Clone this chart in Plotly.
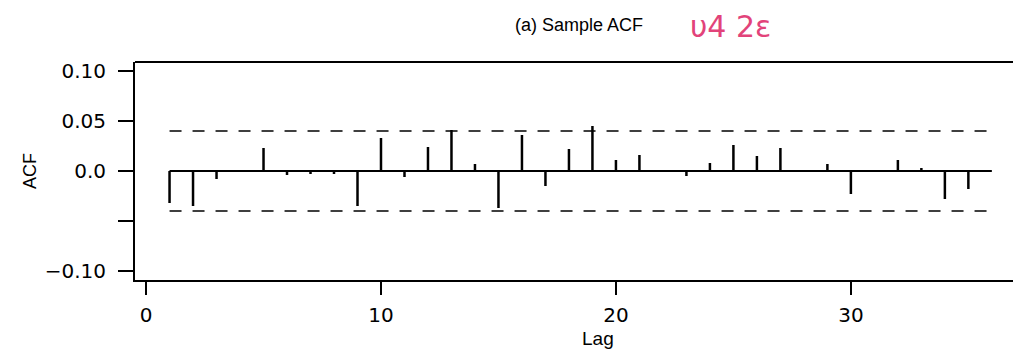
import plotly.graph_objects as go

lags = list(range(1, 37))
acf = [-0.032, -0.035, -0.008, 0.0, 0.023, -0.004, -0.003, -0.003, -0.035, 0.033,
       -0.006, 0.024, 0.041, 0.007, -0.037, 0.036, -0.015, 0.022, 0.045, 0.011,
       0.016, 0.0, -0.005, 0.008, 0.026, 0.015, 0.023, 0.0, 0.007, -0.023,
       0.0, 0.011, 0.003, -0.028, -0.018, 0.0]
conf = 0.040
xticks = [0, 10, 20, 30]
yticks = [0.10, 0.05, 0.0, -0.05, -0.10]
ytick_labels = ["0.10", "0.05", "0.0", "", "\u22120.10"]

FONT = "Liberation Sans, Arial, sans-serif"
NUMFONT = "DejaVu Sans, sans-serif"

xs, ys = [], []
for l, v in zip(lags, acf):
    xs += [l, l, None]
    ys += [0, v, None]

fig = go.Figure()
fig.add_trace(go.Scatter(x=xs, y=ys, mode="lines", line=dict(color="black", width=2.5),
                         hoverinfo="skip", showlegend=False))
fig.add_trace(go.Scatter(x=[lags[0], lags[-1]], y=[0, 0], mode="lines",
                         line=dict(color="black", width=2), showlegend=False))
for c in (conf, -conf):
    fig.add_trace(go.Scatter(x=[lags[0], lags[-1]], y=[c, c], mode="lines",
                             line=dict(color="black", width=1.6, dash="12px,11px"),
                             showlegend=False))

fig.update_layout(
    width=1013, height=351,
    margin=dict(l=135, r=0, t=62, b=71),
    paper_bgcolor="white", plot_bgcolor="white",
    font=dict(family=FONT, color="black", size=18),
    xaxis=dict(range=[-0.47, 36.9], tickvals=xticks, ticktext=[str(t) for t in xticks],
               showgrid=False, zeroline=False, showline=True, linecolor="black", linewidth=2,
               ticks="outside", ticklen=13, tickwidth=2, tickcolor="black",
               tickfont=dict(size=20, family=NUMFONT), ticklabelstandoff=3),
    yaxis=dict(range=[-0.109, 0.109], tickvals=yticks, ticktext=ytick_labels,
               showgrid=False, zeroline=False, showline=True, linecolor="black", linewidth=2,
               ticks="outside", ticklen=15, tickwidth=2, tickcolor="black",
               tickfont=dict(size=20, family=NUMFONT), ticklabelstandoff=8),
    shapes=[dict(type="line", xref="paper", yref="paper", x0=0, x1=1, y0=1, y1=1,
                 line=dict(color="black", width=2))],
    annotations=[
        dict(text="(a) Sample ACF", xref="paper", yref="paper", x=0.506, y=1.0,
             yshift=37, xanchor="center", yanchor="middle", showarrow=False,
             font=dict(size=18)),
        dict(text="\u03c54 2\u03b5", xref="paper", yref="paper", x=0.678, y=1.0,
             yshift=36, xanchor="center", yanchor="middle", showarrow=False,
             font=dict(size=30, color="#e2437a", family="DejaVu Sans")),
        dict(text="ACF", xref="paper", yref="paper", x=0, y=0.5, xshift=-105,
             textangle=-90, xanchor="center", yanchor="middle", showarrow=False,
             font=dict(size=18)),
        dict(text="Lag", xref="paper", yref="paper", x=0.527, y=0, yshift=-58,
             xanchor="center", yanchor="middle", showarrow=False, font=dict(size=19)),
    ],
)

fig.write_html("out.html")
